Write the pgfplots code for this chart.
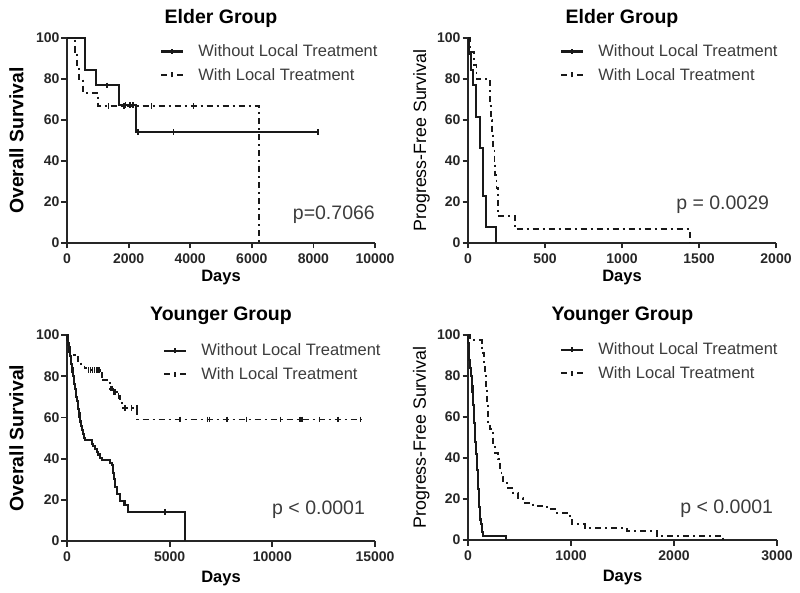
\documentclass[border=0pt]{standalone}
\usepackage{fontspec}
\setmainfont{Liberation Sans}
\usepackage{pgfplots}
\pgfplotsset{compat=1.18}
\definecolor{txtgray}{HTML}{3C3C3C}
\tikzset{pval/.style={anchor=base east, font=\fontsize{19.5}{22}\selectfont, text=txtgray, inner sep=0pt}}
\pgfplotsset{
 kmaxis/.style={
   scale only axis, width=308pt, height=205pt,
   axis x line*=bottom, axis y line*=left,
   axis line style={line width=2.2pt, black!85},
   tick style={line width=1.8pt, black!85},
   tick align=outside, major tick length=5.5pt,
   ymin=0, ymax=100, ytick={0,20,...,100},
   /pgf/number format/assume math mode=true,
   /pgf/number format/set thousands separator={},
   scaled x ticks=false,
   ticklabel style={font=\fontsize{14}{16}\selectfont\bfseries, text=black!85},
   xticklabel style={yshift=-2pt},
   yticklabel style={xshift=1.5pt},
   xlabel={Days},
   xlabel style={font=\fontsize{16.5}{18}\selectfont\bfseries, at={(axis description cs:0.5,-0.19)}, anchor=base},
   title style={font=\fontsize{19.5}{22}\selectfont\bfseries, at={(axis description cs:0.5,1)}, anchor=base, yshift=8.5pt},
   clip=false,
   legend style={draw=none, fill=none, font=\fontsize{16.5}{18}\selectfont\color{txtgray}, anchor=north west, inner sep=0pt, row sep=10pt, nodes={inner sep=0pt}, /tikz/every odd column/.append style={column sep=14pt}},
   legend cell align=left,
   legend image code/.code={\draw[#1] (0pt,0pt) -- (22pt,0pt); \draw[#1,solid] (11pt,-2.5pt) -- (11pt,2.5pt);},
 },
 osl/.style={ylabel={Overall Survival}, ylabel style={font=\fontsize{19.4}{21}\selectfont\bfseries, at={(axis description cs:-0.142,0.5)}, anchor=base}},
 pfsl/.style={ylabel={Progress-Free Survival}, ylabel style={font=\fontsize{17.8}{20}\selectfont, at={(axis description cs:-0.136,0.5)}, anchor=base}},
 noloc/.style={black!90, line width=2.1pt, const plot, mark=none, solid},
 wloc/.style={black!90, line width=1.9pt, const plot, mark=none, dash pattern=on 6pt off 4pt on 2pt off 4pt},
 cens/.style={only marks, mark=|, mark size=2.8pt, black!90, mark options={line width=1.5pt, solid}, forget plot},
}
\begin{document}
\begin{tikzpicture}
\useasboundingbox (0,0) rectangle (800pt,592pt);
% ---------------- Panel 1
\begin{axis}[kmaxis, osl, at={(67pt,349pt)}, anchor=south west,
  xmin=0, xmax=10000, xtick={0,2000,...,10000}, title={Elder Group},
  legend style={at={(axis description cs:0.302,0.968)}}]
\addplot[noloc] coordinates {(0,100) (580,84.6) (950,76.9) (1700,67.3) (2240,54) (8150,54)};
\addlegendentry{Without Local Treatment}
\addplot[wloc] coordinates {(0,100) (260,93.3) (330,86.7) (390,80) (530,73.3) (1020,66.7) (6220,0)};
\addlegendentry{With Local Treatment}
\addplot[cens] coordinates {(1300,76.9) (1900,67.3) (2050,67.3) (2150,67.3) (2300,54) (3450,54) (8150,54)};
\addplot[cens] coordinates {(1350,66.7) (1850,66.7) (2750,66.7) (4100,66.7)};
\node[pval] at (rel axis cs:1,0.117) {p=0.7066};
\end{axis}
% ---------------- Panel 2
\begin{axis}[kmaxis, pfsl, at={(468pt,349pt)}, anchor=south west,
  xmin=0, xmax=2000, xtick={0,500,...,2000}, title={Elder Group},
  legend style={at={(axis description cs:0.299,0.968)}}]
\addplot[noloc] coordinates {(0,100) (8,92.3) (18,84.6) (33,76.9) (50,61.5) (75,46.2) (98,23.1) (117,7.7) (183,0)};
\addlegendentry{Without Local Treatment}
\addplot[wloc] coordinates {(0,100) (12,93.3) (40,86.7) (55,80) (140,66.7) (150,60) (158,53.3) (165,46.7) (172,40) (178,33.3) (185,26.7) (195,13.3) (305,6.7) (1440,0)};
\addlegendentry{With Local Treatment}
\node[pval] at (rel axis cs:0.978,0.163) {p = 0.0029};
\end{axis}
% ---------------- Panel 3
\begin{axis}[kmaxis, osl, at={(67pt,51pt)}, anchor=south west, height=206pt,
  xmin=0, xmax=15000, xtick={0,5000,...,15000}, title={Younger Group},
  xlabel style={at={(axis description cs:0.5,-0.2)}},
  legend style={at={(axis description cs:0.312,0.958)}}]
\addplot[noloc] coordinates {(0,100) (30,98) (60,96) (90,94) (120,92) (150,90) (180,88) (210,86) (240,84) (270,82) (300,80) (330,78) (360,76) (400,74) (430,72) (460,70) (490,68) (520,66) (550,64) (580,62) (610,60) (650,58) (690,56) (730,54) (780,52) (840,50) (880,49) (1200,47) (1280,46) (1360,44.5) (1450,43) (1530,42) (1600,40.5) (1690,39.5) (2100,38) (2180,37) (2260,33) (2300,30) (2330,26) (2420,23) (2580,19.5) (2800,17.5) (2990,14.2) (5750,0)};
\addlegendentry{Without Local Treatment}
\addplot[wloc] coordinates {(0,100) (20,97) (50,95) (80,93) (110,91.5) (300,90.5) (400,89.5) (550,87.5) (700,85.5) (850,84) (950,83) (1600,80.5) (1770,78) (1930,76.5) (2090,74) (2250,72.3) (2420,70.5) (2580,68.4) (2660,64.7) (3430,59) (14300,59)};
\addlegendentry{With Local Treatment}
\addplot[cens] coordinates {(4770,14.2)};
\addplot[cens] coordinates {(1050,83) (1150,83) (1250,83) (1350,83) (1450,83) (1550,83) (1700,80.5) (2150,74) (2200,74) (2300,72.3) (2350,72.3) (2500,70.5) (2830,64.7) (3150,64.7) (3400,64.7) (5500,59) (6850,59) (6950,59) (7800,59) (8750,59) (10400,59) (11350,59) (11450,59) (12300,59) (13200,59) (14300,59)};
\node[pval] at (rel axis cs:0.968,0.131) {p < 0.0001};
\end{axis}
% ---------------- Panel 4
\begin{axis}[kmaxis, pfsl, at={(468pt,52pt)}, anchor=south west, width=309pt,
  xmin=0, xmax=3000, xtick={0,1000,...,3000}, title={Younger Group},
  xlabel style={at={(axis description cs:0.5,-0.2)}},
  legend style={at={(axis description cs:0.298,0.962)}}]
\addplot[noloc] coordinates {(0,100) (3,96) (6,92) (10,88) (15,86) (20,84) (26,82) (32,80) (36,78) (40,75) (44,72) (48,69) (52,66) (55,63) (58,60) (62,57) (65,54) (69,51) (72,48) (76,45) (80,42) (84,40) (87,37) (90,34) (94,31) (97,28) (100,25) (104,22) (107,19) (110,16) (115,13) (120,10) (126,8) (132,6) (138,4) (149,2) (366,0)};
\addlegendentry{Without Local Treatment}
\addplot[wloc] coordinates {(0,100) (20,98.5) (60,97.5) (133,96) (140,93) (149,91.4) (157,86) (165,80) (175,74) (188,67) (197,57.2) (214,54) (240,50.7) (246,45.9) (262,42.6) (294,39.4) (311,34.5) (325,31) (343,28) (376,25.5) (440,23) (489,20.6) (537,18.2) (634,16.6) (764,15) (861,13.3) (975,11.7) (1007,7.7) (1136,6) (1541,4.4) (1832,2) (2480,0)};
\addlegendentry{With Local Treatment}
\node[pval] at (rel axis cs:0.988,0.127) {p < 0.0001};
\end{axis}
\end{tikzpicture}
\end{document}
